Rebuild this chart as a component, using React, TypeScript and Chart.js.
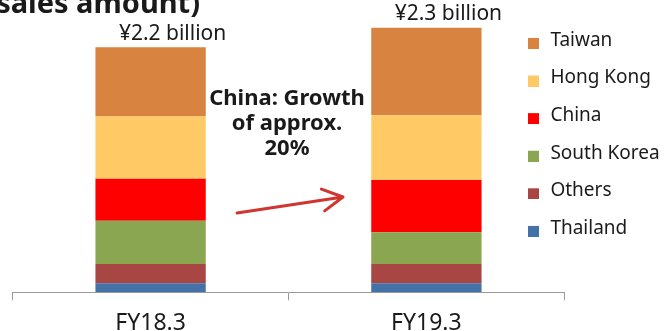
import React, { useEffect, useRef } from 'react';
import { Chart, registerables } from 'chart.js';

Chart.register(...registerables);

// ---- data (values in ¥100 million) ----
const categories = ['FY18.3', 'FY19.3'];
const totalLabels = ['¥2.2 billion', '¥2.3 billion'];
const thailand = [0.8, 0.8];
const others = [1.7, 1.7];
const southKorea = [3.8, 2.8];
const china = [3.7, 4.6];
const hongKong = [5.5, 5.7];
const taiwan = [6.1, 7.7];
const seriesNames = ['Thailand', 'Others', 'South Korea', 'China', 'Hong Kong', 'Taiwan'];
const seriesValues = [thailand, others, southKorea, china, hongKong, taiwan];
const seriesColors = ['#4472A8', '#A84644', '#8AA650', '#FF0000', '#FFC966', '#D98340'];
const annotationLines = ['China: Growth', 'of approx.', '20%'];
const titleText = '(sales amount)';

const FONT = "'Noto Sans', sans-serif";
const AXIS_RIGHT = 564.3;

function makeSwatch(color: string) {
  const c = document.createElement('canvas');
  c.width = 11;
  c.height = 17;
  const g = c.getContext('2d')!;
  g.fillStyle = color;
  g.fillRect(0, 6, 11, 11);
  return c;
}

const overlay = {
  id: 'overlay',
  afterLayout(chart: any) {
    const x = chart.scales.x;
    x.right = AXIS_RIGHT;
    x.width = x.right - x.left;
    x.configure();
  },
  afterDatasetsDraw(chart: any) {
    const ctx = chart.ctx as CanvasRenderingContext2D;
    ctx.save();
    const topMeta = chart.getDatasetMeta(chart.data.datasets.length - 1);
    ctx.fillStyle = '#1a1a1a';
    ctx.textBaseline = 'alphabetic';
    ctx.textAlign = 'center';
    ctx.font = `21px ${FONT}`;
    topMeta.data.forEach((el: any, i: number) => {
      ctx.fillText(totalLabels[i], el.x + 22, el.y - 7.5);
    });
    ctx.font = `bold 29px ${FONT}`;
    ctx.textAlign = 'right';
    ctx.fillText(titleText, 200, 13);
    ctx.font = `bold 22px ${FONT}`;
    ctx.textAlign = 'center';
    annotationLines.forEach((l, k) => ctx.fillText(l, 287, 105 + 25 * k));
    // arrow
    const x1 = 237, y1 = 213, x2 = 343, y2 = 197;
    ctx.strokeStyle = '#D0352F';
    ctx.lineWidth = 3;
    ctx.lineCap = 'round';
    ctx.beginPath();
    ctx.moveTo(x1, y1);
    ctx.lineTo(x2, y2);
    const ang = Math.atan2(y2 - y1, x2 - x1);
    for (const s of [-1, 1]) {
      const a = ang + Math.PI + s * 0.5;
      ctx.moveTo(x2, y2);
      ctx.lineTo(x2 + 23 * Math.cos(a), y2 + 23 * Math.sin(a));
    }
    ctx.stroke();
    ctx.restore();
  },
};

export default function App() {
  const ref = useRef<HTMLCanvasElement | null>(null);
  useEffect(() => {
    if (!ref.current) return;
    const chart = new Chart(ref.current, {
      type: 'bar',
      data: {
        labels: categories,
        datasets: seriesNames.map((name, i) => ({
          label: name,
          data: seriesValues[i],
          backgroundColor: seriesColors[i],
          borderWidth: 0,
          barPercentage: 0.4,
          categoryPercentage: 1,
        })),
      },
      options: {
        responsive: false,
        animation: false,
        layout: { padding: { left: 12.7, right: -5.7, top: 12.3, bottom: -15 } },
        scales: {
          x: {
            stacked: true,
            grid: { display: true, drawOnChartArea: false, color: '#9a9a9a', tickLength: 8, offset: true },
            border: { display: true, color: '#9a9a9a', width: 1 },
            ticks: { color: '#1a1a1a', padding: 12.5, font: { family: FONT, size: 23, lineHeight: 0.9 } },
          },
          y: { stacked: true, display: false, min: 0, max: 24.67 },
        },
        plugins: {
          tooltip: { enabled: false },
          legend: {
            position: 'right',
            align: 'start',
            reverse: true,
            labels: {
              color: '#1a1a1a',
              font: { family: FONT, size: 19 },
              padding: 18.6,
              usePointStyle: true,
              boxWidth: 14,
              boxHeight: 11,
              generateLabels: (c: any) =>
                Chart.defaults.plugins.legend.labels.generateLabels(c).map((it: any) => ({
                  ...it,
                  pointStyle: makeSwatch(it.fillStyle as string),
                })),
            },
          },
        },
      },
      plugins: [overlay],
    } as any);
    return () => chart.destroy();
  }, []);
  return (
    <div style={{ position: 'fixed', left: 0, top: 0, width: 664, height: 331, background: '#fff' }}>
      <canvas ref={ref} width={664} height={331} style={{ width: 664, height: 331, display: 'block' }} />
    </div>
  );
}
